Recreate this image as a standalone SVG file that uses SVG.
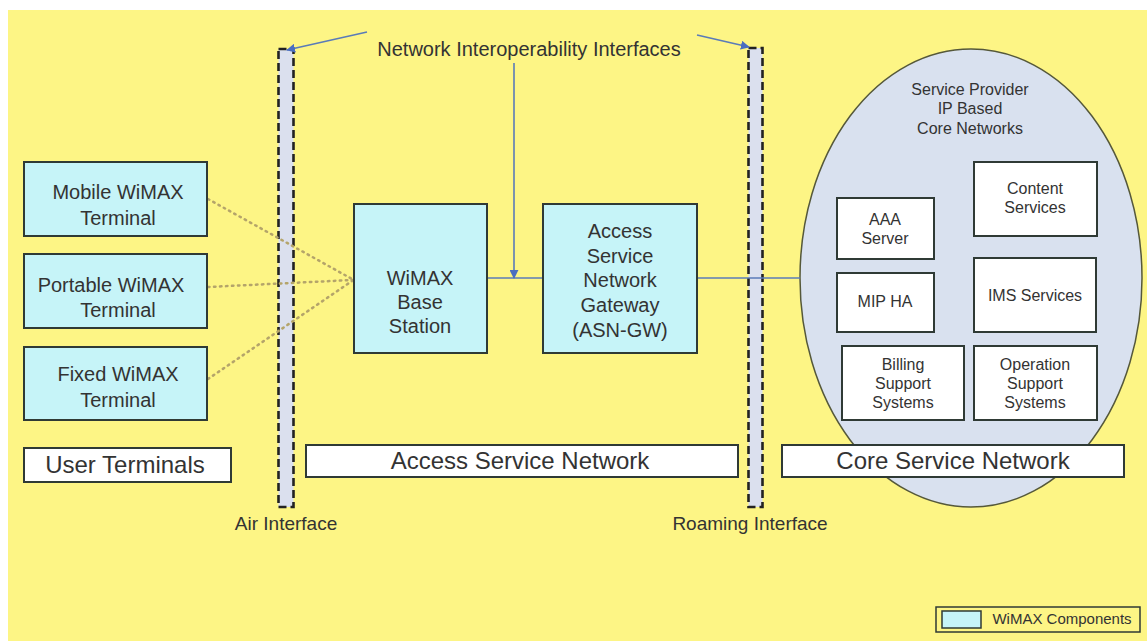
<svg xmlns="http://www.w3.org/2000/svg" width="1147" height="641" viewBox="0 0 1147 641">
<style>
text{font-family:"Liberation Sans",Arial,sans-serif;fill:#333;text-anchor:middle}
.comp{fill:#c6f4f8;stroke:#2f3a35;stroke-width:2}
.wbox{fill:#ffffff;stroke:#2f3a35;stroke-width:2}
.t20{font-size:20px}
.t16{font-size:16px}
.t24{font-size:24px}
.bar{fill:#dbe0ee;stroke:#222;stroke-width:2.6;stroke-dasharray:8 4}
.dot{fill:none;stroke:#b4a46a;stroke-width:2.5;stroke-dasharray:1.5 4.5;stroke-linecap:round}
.blue{fill:none;stroke:#5a7bb8;stroke-width:1.6}
</style>
<defs>
<marker id="ah" viewBox="0 0 10 10" refX="9" refY="5" markerWidth="9" markerHeight="9" markerUnits="userSpaceOnUse" orient="auto">
<path d="M0,0 L10,5 L0,10 z" fill="#4a6ec0"/>
</marker>
</defs>
<rect x="0" y="0" width="1147" height="641" fill="#ffffff"/>
<rect x="8" y="10" width="1139" height="631" fill="#fdf585"/>

<g id="interfaces">
<rect class="bar" x="278.5" y="49" width="15" height="458"/>
<rect class="bar" x="748.5" y="48" width="14" height="459"/>
<text x="286" y="530" style="font-size:19px">Air Interface</text>
<text x="750" y="530" style="font-size:19px">Roaming Interface</text>
<text class="t20" x="529" y="56">Network Interoperability Interfaces</text>
</g>

<g id="core-cloud">
<ellipse cx="971" cy="278" rx="171" ry="229" fill="#d9e1ef" stroke="#55583a" stroke-width="1.5"/>
<text class="t16" x="970" y="95">Service Provider</text>
<text class="t16" x="970" y="114">IP Based</text>
<text class="t16" x="970" y="134">Core Networks</text>
</g>

<g id="connectors">
<line class="dot" x1="208" y1="199" x2="352" y2="279"/>
<line class="dot" x1="208" y1="287" x2="352" y2="280"/>
<line class="dot" x1="208" y1="379" x2="352" y2="281"/>
<line class="blue" x1="487" y1="278" x2="543" y2="278"/>
<line class="blue" x1="697" y1="278" x2="800" y2="278"/>
<line class="blue" x1="514" y1="63" x2="514" y2="278" marker-end="url(#ah)"/>
<line class="blue" x1="367" y1="32" x2="287" y2="50" marker-end="url(#ah)"/>
<line class="blue" x1="697" y1="35" x2="749" y2="47" marker-end="url(#ah)"/>
</g>

<g id="mobile-terminal">
<rect class="comp" x="24" y="162" width="183" height="74"/>
<text class="t20" x="118" y="199">Mobile WiMAX</text>
<text class="t20" x="118" y="225">Terminal</text>
</g>
<g id="portable-terminal">
<rect class="comp" x="24" y="254" width="183" height="74"/>
<text class="t20" x="111" y="292">Portable WiMAX</text>
<text class="t20" x="118" y="317">Terminal</text>
</g>
<g id="fixed-terminal">
<rect class="comp" x="24" y="347" width="183" height="73"/>
<text class="t20" x="118" y="381">Fixed WiMAX</text>
<text class="t20" x="118" y="407">Terminal</text>
</g>
<g id="user-terminals">
<rect class="wbox" x="24" y="448" width="207" height="34"/>
<text class="t24" x="125" y="473">User Terminals</text>
</g>

<g id="base-station">
<rect class="comp" x="354" y="204" width="133" height="149"/>
<text class="t20" x="420" y="285">WiMAX</text>
<text class="t20" x="420" y="309">Base</text>
<text class="t20" x="420" y="333">Station</text>
</g>
<g id="asn-gw">
<rect class="comp" x="543" y="204" width="154" height="149"/>
<text class="t20" x="620" y="238">Access</text>
<text class="t20" x="620" y="263">Service</text>
<text class="t20" x="620" y="287">Network</text>
<text class="t20" x="620" y="312">Gateway</text>
<text class="t20" x="620" y="337">(ASN-GW)</text>
</g>
<g id="access-service-network">
<rect class="wbox" x="306" y="445" width="432" height="32"/>
<text class="t24" x="520" y="469">Access Service Network</text>
</g>

<g id="aaa-server">
<rect class="wbox" x="837" y="198" width="97" height="61"/>
<text class="t16" x="885" y="225">AAA</text>
<text class="t16" x="885" y="244">Server</text>
</g>
<g id="content-services">
<rect class="wbox" x="974" y="162" width="123" height="74"/>
<text class="t16" x="1035" y="194">Content</text>
<text class="t16" x="1035" y="213">Services</text>
</g>
<g id="mip-ha">
<rect class="wbox" x="837" y="273" width="97" height="59"/>
<text class="t16" x="885" y="307">MIP HA</text>
</g>
<g id="ims-services">
<rect class="wbox" x="974" y="258" width="122" height="74"/>
<text class="t16" x="1035" y="301">IMS Services</text>
</g>
<g id="billing">
<rect class="wbox" x="842" y="346" width="122" height="74"/>
<text class="t16" x="903" y="370">Billing</text>
<text class="t16" x="903" y="389">Support</text>
<text class="t16" x="903" y="408">Systems</text>
</g>
<g id="operation">
<rect class="wbox" x="974" y="346" width="123" height="74"/>
<text class="t16" x="1035" y="370">Operation</text>
<text class="t16" x="1035" y="389">Support</text>
<text class="t16" x="1035" y="408">Systems</text>
</g>
<g id="core-service-network">
<rect class="wbox" x="782" y="445" width="342" height="32"/>
<text class="t24" x="953" y="469">Core Service Network</text>
</g>

<g id="legend">
<rect x="936" y="607" width="204" height="25" fill="none" stroke="#2f3a35" stroke-width="1.5"/>
<rect class="comp" x="942" y="611" width="39" height="17" style="stroke-width:1.5"/>
<text x="1062" y="624" style="font-size:15px">WiMAX Components</text>
</g>
</svg>
